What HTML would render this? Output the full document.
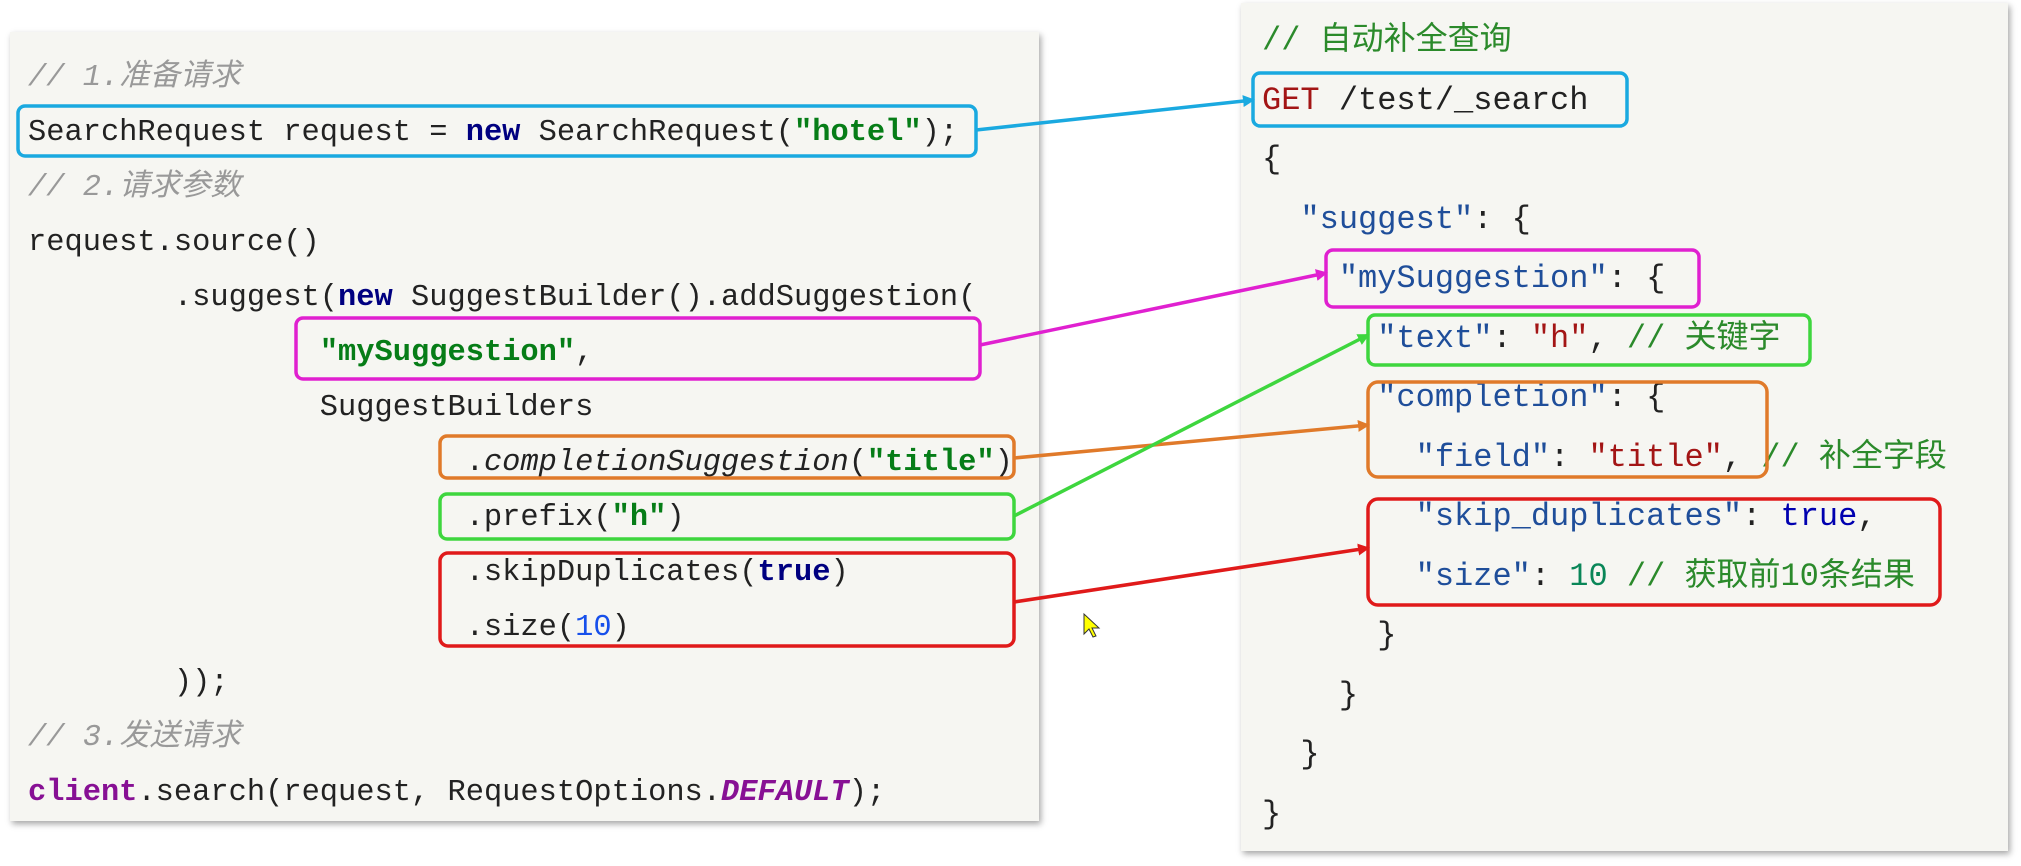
<!DOCTYPE html>
<html><head><meta charset="utf-8"><style>
body{margin:0;width:2021px;height:866px;background:#fff;position:relative;overflow:hidden}
.panel{position:absolute;background:#f6f6f2;box-shadow:2px 3px 6px rgba(0,0,0,.35)}
.code{position:absolute;white-space:pre;font-family:"Liberation Mono","Noto Sans CJK SC",monospace;color:#222}
.l{font-size:30.4px;line-height:55px;left:28px;top:51px}
.r{font-size:32px;line-height:59.5px;left:1262px;top:11px}
.c{color:#999;font-style:italic}
.k{color:#000080;font-weight:bold}
.s{color:#067d17;font-weight:bold}
.p{color:#871094;font-weight:bold}
.n{color:#1750eb}
.js{color:#1f4e9a}
.jv{color:#a31515}
.jc{color:#2b8a2b}
.jt{color:#0000b0}
.jn{color:#098658}
svg{position:absolute;left:0;top:0}
</style></head><body>
<div class="panel" style="left:10px;top:32px;width:1029px;height:789px"></div>
<div class="panel" style="left:1241px;top:3px;width:767px;height:848px"></div>
<div class="code l"><span class="c">// 1.准备请求</span>
SearchRequest request = <span class="k">new</span> SearchRequest(<span class="s">"hotel"</span>);
<span class="c">// 2.请求参数</span>
request.source()
        .suggest(<span class="k">new</span> SuggestBuilder().addSuggestion(
                <span class="s">"mySuggestion"</span>,
                SuggestBuilders
                        .<i>completionSuggestion</i>(<span class="s">"title"</span>)
                        .prefix(<span class="s">"h"</span>)
                        .skipDuplicates(<span class="k">true</span>)
                        .size(<span class="n">10</span>)
        ));
<span class="c">// 3.发送请求</span>
<span class="p">client</span>.search(request, RequestOptions.<i class="p">DEFAULT</i>);</div>
<div class="code r"><span class="jc">// 自动补全查询</span>
<span class="jv">GET</span> /test/_search
{
  <span class="js">"suggest"</span>: {
    <span class="js">"mySuggestion"</span>: {
      <span class="js">"text"</span>: <span class="jv">"h"</span>, <span class="jc">// 关键字</span>
      <span class="js">"completion"</span>: {
        <span class="js">"field"</span>: <span class="jv">"title"</span>, <span class="jc">// 补全字段</span>
        <span class="js">"skip_duplicates"</span>: <span class="jt">true</span>,
        <span class="js">"size"</span>: <span class="jn">10</span> <span class="jc">// 获取前10条结果</span>
      }
    }
  }
}</div>
<svg width="2021" height="866" viewBox="0 0 2021 866">
<defs>
<marker id="mb" markerWidth="12" markerHeight="12" refX="10" refY="6" orient="auto" markerUnits="userSpaceOnUse"><path d="M0,0L12,6L0,12z" fill="#1aa9e0"/></marker>
<marker id="mm" markerWidth="12" markerHeight="12" refX="10" refY="6" orient="auto" markerUnits="userSpaceOnUse"><path d="M0,0L12,6L0,12z" fill="#e020d0"/></marker>
<marker id="mo" markerWidth="12" markerHeight="12" refX="10" refY="6" orient="auto" markerUnits="userSpaceOnUse"><path d="M0,0L12,6L0,12z" fill="#e07a2a"/></marker>
<marker id="mg" markerWidth="12" markerHeight="12" refX="10" refY="6" orient="auto" markerUnits="userSpaceOnUse"><path d="M0,0L12,6L0,12z" fill="#3ed63e"/></marker>
<marker id="mr" markerWidth="12" markerHeight="12" refX="10" refY="6" orient="auto" markerUnits="userSpaceOnUse"><path d="M0,0L12,6L0,12z" fill="#e01a1a"/></marker>
</defs>
<g fill="none" stroke-width="3.5">
<rect x="18" y="106" width="958" height="50" rx="7" stroke="#1aa9e0"/>
<rect x="296" y="318" width="684" height="61" rx="7" stroke="#e020d0"/>
<rect x="440" y="436" width="574" height="42" rx="7" stroke="#e07a2a"/>
<rect x="440" y="494" width="574" height="45" rx="7" stroke="#3ed63e"/>
<rect x="440" y="553" width="574" height="93" rx="8" stroke="#e01a1a"/>
<rect x="1253" y="73" width="374" height="53" rx="7" stroke="#1aa9e0"/>
<rect x="1326" y="250" width="373" height="57" rx="7" stroke="#e020d0"/>
<rect x="1368" y="315" width="442" height="50" rx="7" stroke="#3ed63e"/>
<rect x="1368" y="382" width="399" height="95" rx="10" stroke="#e07a2a"/>
<rect x="1368" y="499" width="572" height="106" rx="10" stroke="#e01a1a"/>
</g>
<g fill="none" stroke-width="3.5">
<line x1="976" y1="130" x2="1253" y2="100" stroke="#1aa9e0" marker-end="url(#mb)"/>
<line x1="980" y1="345" x2="1326" y2="273" stroke="#e020d0" marker-end="url(#mm)"/>
<line x1="1014" y1="458" x2="1368" y2="425" stroke="#e07a2a" marker-end="url(#mo)"/>
<line x1="1014" y1="516" x2="1368" y2="335" stroke="#3ed63e" marker-end="url(#mg)"/>
<line x1="1014" y1="602" x2="1368" y2="548" stroke="#e01a1a" marker-end="url(#mr)"/>
</g>
<path d="M1084,614l0,20l5,-5l4,8l3,-1l-4,-8l7,0z" fill="#ff0" stroke="#333" stroke-width="1"/>
</svg>
</body></html>
